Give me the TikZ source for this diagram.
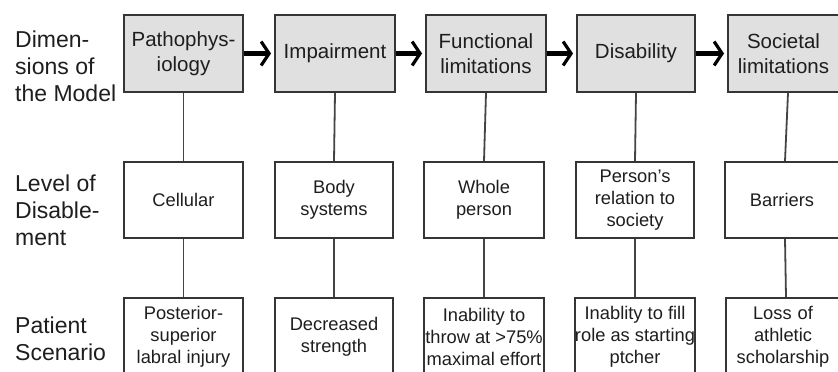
\documentclass[tikz,border=0pt]{standalone}
\usepackage{fontspec}
\setmainfont{Liberation Sans}
\usetikzlibrary{arrows.meta}
\definecolor{boxline}{HTML}{353535}
\definecolor{boxfill}{HTML}{E0E0E0}
\definecolor{txt}{HTML}{1E1E1E}
\definecolor{conn}{HTML}{444444}
\tikzset{
  dimbox/.style={draw=boxline, line width=1.9pt, fill=boxfill, minimum height=77pt, inner sep=0pt, align=center, text=txt, font=\fontsize{20.5}{24.5}\selectfont},
  levbox/.style={draw=boxline, line width=1.9pt, fill=white, minimum height=76pt, inner sep=0pt, align=center, text=txt, font=\fontsize{18.3}{22}\selectfont},
  scnbox/.style={draw=boxline, line width=1.9pt, fill=white, minimum height=78pt, inner sep=0pt, align=center, text=txt, font=\fontsize{18.3}{21.8}\selectfont},
  rowlabel/.style={anchor=west, align=left, inner sep=0pt, text=txt, font=\fontsize{23}{27}\selectfont},
  flow/.style={line width=4.5pt, -{Straight Barb[length=8pt,width=24pt,line width=3.2pt]}, shorten >=3pt},
  vlink/.style={draw=conn, line width=1.8pt}
}
\begin{document}
\begin{tikzpicture}[x=1pt,y=-1pt]
\useasboundingbox[fill=white] (0,0) rectangle (838,372);
% row labels
\node[rowlabel] (l1) at (15,66) {Dimen-\\sions of\\the Model};
\node[rowlabel] (l2) at (15,210) {Level of\\Disable-\\ment};
\node[rowlabel] (l3) at (15,339) {Patient\\Scenario};
% top row
\node[dimbox, minimum width=119pt] (t1) at (183.5,53.5) {Pathophys-\\iology};
\node[dimbox, minimum width=120pt] (t2) at (335,53.5) {Impairment};
\node[dimbox, minimum width=120pt] (t3) at (486,53.5) {Functional\\limitations};
\node[dimbox, minimum width=118pt] (t4) at (636,53.5) {Disability};
\node[dimbox, minimum width=120pt, text width=120pt] (t5) at (788,53.5) {\hspace*{-9pt}Societal\\\hspace*{-9pt}limitations};
% middle row
\node[levbox, minimum width=119pt] (m1) at (183.5,200) {Cellular};
\node[levbox, minimum width=118pt] (m2) at (334,200) {Body\\systems};
\node[levbox, minimum width=120pt] (m3) at (484,200) {Whole\\person};
\node[levbox, minimum width=118pt] (m4) at (635,200) {Person's\\relation to\\society};
\node[levbox, minimum width=120pt, text width=120pt] (m5) at (785,200) {\hspace*{-6pt}Barriers};
% bottom row
\node[scnbox, minimum width=119pt] (b1) at (183.5,337) {Posterior-\\superior\\labral injury};
\node[scnbox, minimum width=118pt] (b2) at (334,337) {Decreased\\strength};
\node[scnbox, minimum width=120pt] (b3) at (484,337) {Inability to\\throw at >75\%\\maximal effort};
\node[scnbox, minimum width=118pt] (b4) at (635,337) {Inablity to fill\\role as starting\\ptcher};
\node[scnbox, minimum width=120pt, text width=120pt] (b5) at (786,337) {\hspace*{-6pt}Loss of\\\hspace*{-6pt}athletic\\\hspace*{-6pt}scholarship};
% arrows
\draw[flow] (t1) -- (t2);
\draw[flow] (t2) -- (t3);
\draw[flow] (t3) -- (t4);
\draw[flow] (t4) -- (t5);
% vertical links
\foreach \i in {1,...,5} {
  \draw[vlink] (t\i.south) -- (m\i.north);
  \draw[vlink] (m\i.south) -- (b\i.north);
}
\end{tikzpicture}
\end{document}
